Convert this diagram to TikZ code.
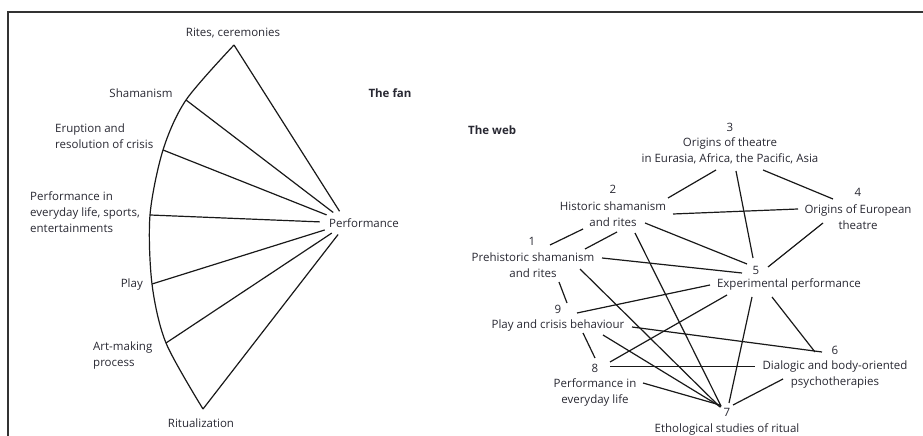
\documentclass[tikz,border=0pt]{standalone}
\usepackage{fontspec}
\setmainfont{Open Sans}
\usetikzlibrary{positioning,shapes.geometric}
\definecolor{inkgray}{RGB}{40,40,50}
\definecolor{linegray}{RGB}{25,25,25}

\begin{document}
\begin{tikzpicture}[x=1pt, y=1pt,
  lbl/.style={text=inkgray, font=\fontsize{11.5}{16}\selectfont, inner sep=2pt, align=center},
  title/.style={lbl, font=\fontsize{11.5}{16}\selectfont\bfseries},
  link/.style={draw=linegray, line width=1.2pt},
  hubshape/.style={ellipse, inner sep=0pt, minimum width=54, minimum height=24}]

\useasboundingbox (0,0) rectangle (923,436);
\draw[line width=1.6pt, black!80] (8,0) -- (8,424) -- (923,424);

% the fan
\coordinate (rites) at (234,391);
\coordinate (sham) at (186,336);
\coordinate (erup) at (163,286);
\coordinate (every) at (150,221);
\coordinate (play) at (152,152);
\coordinate (art) at (166,93);
\coordinate (ritual) at (203,27);

\node[lbl] (lrites) at (233,403) {Rites, ceremonies};
\node[lbl] (lsham) at (141,343) {Shamanism};
\node[lbl, anchor=west, align=left] (lerup) at (53,300) {Eruption and\\resolution of crisis};
\node[lbl, anchor=west, align=left] (levery) at (28,224) {Performance in\\everyday life, sports,\\entertainments};
\node[lbl, anchor=east] (lplay) at (145,151) {Play};
\node[lbl, anchor=west, align=left] (lart) at (91,80) {Art-making\\process};
\node[lbl] (lritual) at (201,13) {Ritualization};
\node[lbl] (perf) at (364,213) {Performance};
\node[hubshape] (perfhub) at (347,213) {};
\node[title] (fan) at (390,343) {The fan};

\draw[link] plot[smooth] coordinates {(rites) (sham) (erup) (every) (play) (art) (ritual)};
\foreach \p in {rites,sham,erup,every,play,art,ritual}
  \draw[link] (\p) -- (perfhub);

% the web
\node[title, anchor=west] (web) at (466,306) {The web};

\node[lbl] (n1) at (532,195) {1};
\node[lbl] (t1) at (533,171) {Prehistoric shamanism\\and rites};
\node[lbl] (n2) at (613,247) {2};
\node[lbl] (t2) at (613,222) {Historic shamanism\\and rites};
\node[lbl] (n3) at (730,309) {3};
\node[lbl] (t3) at (730,285) {Origins of theatre\\in Eurasia, Africa, the Pacific, Asia};
\node[lbl] (n4) at (858,244) {4};
\node[lbl] (t4) at (858,219) {Origins of European\\theatre};
\node[lbl] (n5) at (756,166) {5};
\node[lbl] (t5) at (789,152) {Experimental performance};
\node[lbl] (n6) at (835,86) {6};
\node[lbl] (t6) at (835,61) {Dialogic and body-oriented\\psychotherapies};
\node[lbl] (n7) at (727,24) {7};
\node[lbl] (t7) at (727,7) {Ethological studies of ritual};
\node[lbl] (n8) at (595,68) {8};
\node[lbl] (t8) at (595,44) {Performance in\\everyday life};
\node[lbl] (n9) at (558,127) {9};
\node[lbl] (t9) at (558,110) {Play and crisis behaviour};

\draw[link] ([shift={(-14,-19)}]t3.center) -- ([shift={(55,16)}]t2.center);
\draw[link] ([shift={(6,-20)}]t3.center) -- ([shift={(-3,12)}]n5.center);
\draw[link] ([shift={(33,-19)}]t3.center) -- ([shift={(-25,18)}]t4.center);
\draw[link] ([shift={(60,0)}]t2.center) -- ([shift={(-60,8)}]t4.center);
\draw[link] ([shift={(18,-4)}]n1.center) -- ([shift={(-30,-15)}]t2.center);
\draw[link] ([shift={(52,16)}]t1.center) -- ([shift={(4,-18)}]t2.center);
\draw[link] ([shift={(32,-9)}]t2.center) -- ([shift={(-9,6)}]n5.center);
\draw[link] ([shift={(22,-19)}]t2.center) -- ([shift={(-6,6)}]n7.center);
\draw[link] ([shift={(69,7)}]t1.center) -- ([shift={(-14,-3)}]n5.center);
\draw[link] ([shift={(47,-4)}]t1.center) -- ([shift={(-7,5)}]n7.center);
\draw[link] ([shift={(-35,-6)}]t4.center) -- ([shift={(12,3)}]n5.center);
\draw[link] ([shift={(26,-17)}]t1.center) -- ([shift={(9,6)}]n9.center);
\draw[link] ([shift={(19,-4)}]n9.center) -- ([shift={(-79,-1)}]t5.center);
\draw[link] ([shift={(74,-1)}]t9.center) -- ([shift={(-13,-2)}]n6.center);
\draw[link] ([shift={(25,-7)}]t9.center) -- ([shift={(0,10)}]n8.center);
\draw[link] ([shift={(45,-9)}]t9.center) -- ([shift={(-6,5)}]n7.center);
\draw[link] ([shift={(15,6)}]n8.center) -- ([shift={(-62,-11)}]t5.center);
\draw[link] ([shift={(15,1.5)}]n8.center) -- ([shift={(-80,8.5)}]t6.center);
\draw[link] ([shift={(48,9)}]t8.center) -- ([shift={(-7,7)}]n7.center);
\draw[link] ([shift={(-37,-13)}]t5.center) -- ([shift={(2,9)}]n7.center);
\draw[link] ([shift={(-17,-13)}]t5.center) -- ([shift={(-20,-2)}]n6.center);
\draw[link] ([shift={(-52,-4)}]t6.center) -- ([shift={(6,7)}]n7.center);

\end{tikzpicture}
\end{document}
